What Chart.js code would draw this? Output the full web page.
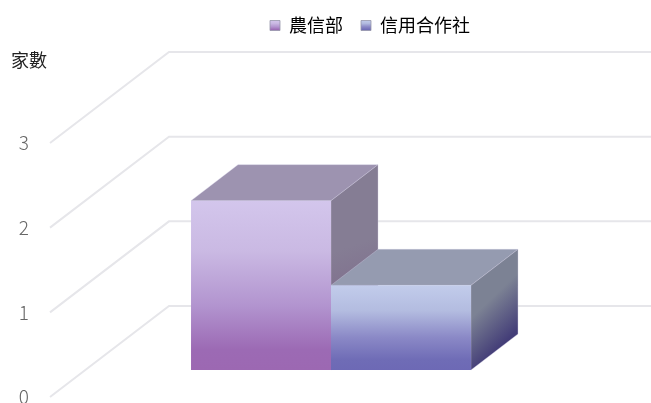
<!DOCTYPE html>
<html>
<head>
<meta charset="utf-8">
<style>
  html, body { margin: 0; padding: 0; background: #fff; overflow: hidden; }
  canvas { display: block; }
</style>
</head>
<body>
<canvas id="chart" width="651" height="403"></canvas>
<script src="https://cdn.jsdelivr.net/npm/chart.js@4/dist/chart.umd.min.js"></script>
<script>
'use strict';

const categories = [''];
const seriesNames = ['農信部', '信用合作社'];
const farmValues = [2];
const creditValues = [1];
const yTicks = [0, 1, 2, 3];
const yTitle = '家數';

const FONT = '"Noto Sans CJK TC", "Noto Sans", sans-serif';

// floor offsets of the fake 3D box, in pixels
const WALL = { dx: 119, dy: -91 };
const BAR_PLANE = { dx: 35, dy: -27 };
const BAR_DEPTH = { dx: 47, dy: -36 };

const canvas = document.getElementById('chart');
const ctx = canvas.getContext('2d');

function vGrad(y0, y1, stops) {
    const g = ctx.createLinearGradient(0, y0, 0, y1);
    stops.forEach(s => g.addColorStop(s[0], s[1]));
    return g;
}

const FACES = [
    {
        front: [[0, '#d3c6ec'], [0.3, '#cab9e3'], [0.62, '#b294cf'], [0.88, '#9c6ab4'], [1, '#9c68b2']],
        top: '#9d93b0',
        side: ['#857d94', '#7b6488'],
    },
    {
        front: [[0, '#c2cceb'], [0.3, '#b3bce0'], [0.62, '#8a88c6'], [0.88, '#6f6cb6'], [1, '#6d69b5']],
        top: '#959bb0',
        side: ['#7c8294', '#443e78'],
    },
];

function frontFill(context) {
    const stops = FACES[context.datasetIndex].front;
    const y = context.chart.scales.y;
    if (context.raw === undefined || !y) return stops[0][1];
    const y0 = y.getPixelForValue(context.raw);
    const y1 = y.getPixelForValue(0);
    if (!Number.isFinite(y0) || !Number.isFinite(y1)) return stops[0][1];
    return vGrad(y0, y1, stops);
}

const box3d = {
    id: 'box3d',
    // floor and wall lines, then tops and sides of the bars
    beforeDatasetsDraw(chart) {
        const y = chart.scales.y;
        const left = chart.chartArea.left;
        const c = chart.ctx;
        c.save();
        c.strokeStyle = '#e6e6ea';
        c.lineWidth = 2;
        yTicks.forEach(v => {
            const py = y.getPixelForValue(v);
            c.beginPath();
            c.moveTo(left, py);
            c.lineTo(left + WALL.dx, py + WALL.dy);
            c.lineTo(chart.width, py + WALL.dy);
            c.stroke();
        });
        c.restore();

        c.save();
        c.translate(BAR_PLANE.dx, BAR_PLANE.dy);
        FACES.forEach((face, i) => {
            const p = chart.getDatasetMeta(i).data[0].getProps(['x', 'y', 'base', 'width'], true);
            const l = p.x - p.width / 2;
            const r = p.x + p.width / 2;
            const dx = BAR_DEPTH.dx;
            const dy = BAR_DEPTH.dy;

            c.strokeStyle = 'rgba(205,200,225,0.35)';
            c.lineWidth = 1;

            c.beginPath();
            c.moveTo(l, p.y);
            c.lineTo(l + dx, p.y + dy);
            c.lineTo(r + dx, p.y + dy);
            c.lineTo(r, p.y);
            c.closePath();
            c.fillStyle = face.top;
            c.fill();
            c.stroke();

            const g = c.createLinearGradient(r, p.y, r + dx, p.base + dy);
            g.addColorStop(0.35, face.side[0]);
            g.addColorStop(0.95, face.side[1]);
            c.beginPath();
            c.moveTo(r, p.y);
            c.lineTo(r + dx, p.y + dy);
            c.lineTo(r + dx, p.base + dy);
            c.lineTo(r, p.base);
            c.closePath();
            c.fillStyle = g;
            c.fill();
            c.stroke();
        });
        c.restore();
    },
    beforeDatasetDraw(chart) {
        chart.ctx.save();
        chart.ctx.translate(BAR_PLANE.dx, BAR_PLANE.dy);
    },
    afterDatasetDraw(chart) {
        chart.ctx.restore();
    },
    // legend sits at the very top, right of the canvas centre
    afterLayout(chart) {
        chart.legend.left += 99;
        chart.legend.right += 99;
        chart.legend.top = -1.5;
    },
    afterDraw(chart) {
        const c = chart.ctx;
        c.save();
        c.font = '18px ' + FONT;
        c.fillStyle = '#222';
        c.textBaseline = 'middle';
        c.fillText(yTitle, 11, 60);
        c.restore();
    },
};

new Chart(ctx, {
    type: 'bar',
    data: {
        labels: categories,
        datasets: [
            { label: seriesNames[0], data: farmValues },
            { label: seriesNames[1], data: creditValues },
        ],
    },
    options: {
        responsive: false,
        animation: false,
        layout: { padding: { top: 0, right: 109, bottom: 6, left: 0 } },
        datasets: { bar: { categoryPercentage: 0.569, barPercentage: 1, clip: false } },
        elements: { bar: { backgroundColor: frontFill, borderWidth: 0 } },
        plugins: {
            tooltip: { enabled: false },
            legend: {
                position: 'top',
                labels: {
                    boxWidth: 10,
                    boxHeight: 10,
                    padding: 18,
                    color: '#222',
                    font: { family: FONT, size: 18 },
                    generateLabels: () => seriesNames.map((name, i) => ({
                        text: name,
                        fillStyle: vGrad(20, 31, FACES[i].front),
                        strokeStyle: 'rgba(150,150,170,0.8)',
                        lineWidth: 1,
                        datasetIndex: i,
                    })),
                },
            },
        },
        scales: {
            x: { display: false },
            y: {
                min: 0,
                max: 3,
                border: { display: false },
                grid: { display: false },
                ticks: {
                    stepSize: 1,
                    padding: 13,
                    color: '#666',
                    font: { family: FONT, size: 19, weight: '300' },
                },
                afterFit(scale) {
                    scale.width = 50;
                    scale.paddingTop = 143;
                    scale.paddingBottom = 0;
                },
            },
        },
    },
    plugins: [box3d],
});
</script>
</body>
</html>
